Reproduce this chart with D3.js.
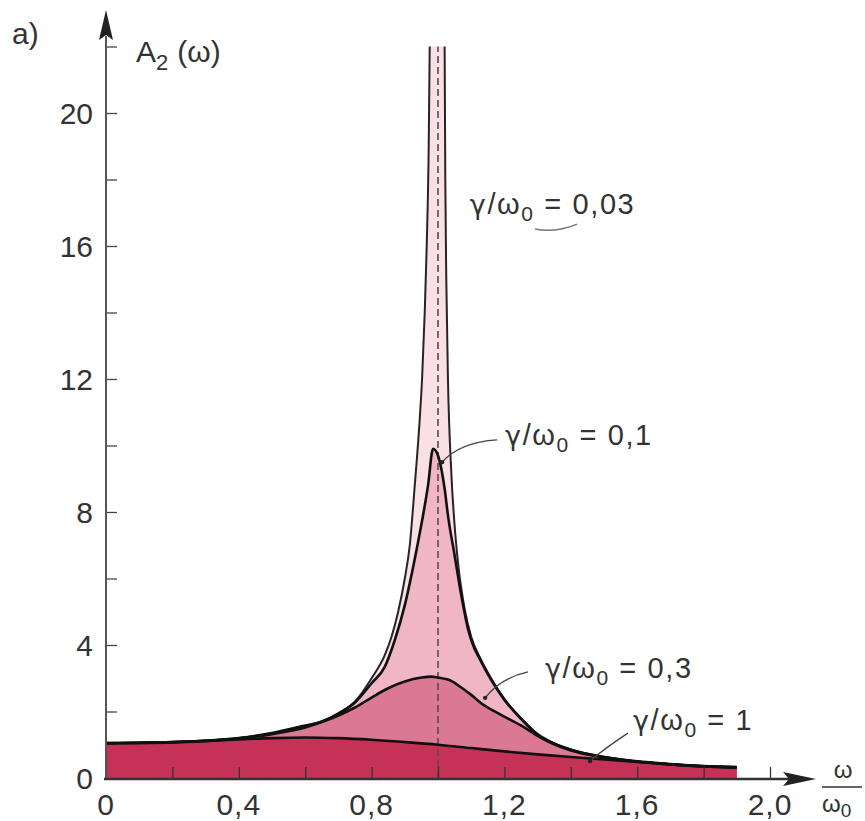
<!DOCTYPE html>
<html lang="de">
<head>
<meta charset="UTF-8">
<title>A2(ω) Resonanzkurven</title>
<script src="https://cdn.jsdelivr.net/npm/d3@7"></script>
<style>
    body { margin: 0; background: #fff; }
    text { font-family: "Liberation Sans", Arial, Helvetica, sans-serif; fill: #333; }
</style>
</head>
<body>
<script>
    // Werte: x = ω/ω0, a = A2(ω)
    var x003 = [0,0.1,0.2,0.3,0.4,0.5,0.58,0.65,0.7,0.75,0.8,0.84,0.86,0.88,0.9,0.915,0.93,0.945,0.952,0.96,0.966,0.972,0.975,
                1.02,1.022,1.025,1.03,1.04,1.05,1.06,1.08,1.1,1.13,1.16,1.2,1.25,1.3,1.35,1.4,1.5,1.6,1.7,1.8,1.9];
    var a003 = [1.05,1.06,1.08,1.12,1.2,1.35,1.53,1.7,1.95,2.3,3.0,3.7,4.25,5.0,6.0,7.0,8.8,10.8,12,14,16,19,22,
                22,18,15,12,9.2,7.6,6.5,5.1,4.25,3.55,3.0,2.38,1.8,1.33,1.05,0.86,0.64,0.5,0.42,0.36,0.33];

    var x01 = [0,0.1,0.2,0.3,0.4,0.5,0.58,0.65,0.7,0.75,0.8,0.84,0.87,0.9,0.92,0.94,0.955,0.97,0.985,1.0,
               1.01,1.02,1.03,1.05,1.07,1.09,1.1,1.13,1.16,1.2,1.25,1.3,1.35,1.4,1.5,1.6,1.7,1.8,1.9];
    var a01 = [1.05,1.06,1.08,1.12,1.2,1.35,1.53,1.7,1.93,2.27,2.85,3.35,4.15,5.2,6.1,7.1,7.9,8.8,9.9,9.7,
               9.3,8.7,7.9,6.7,5.5,4.5,4.15,3.5,2.95,2.35,1.78,1.3,1.03,0.85,0.63,0.5,0.42,0.36,0.33];

    var x03 = [0,0.1,0.2,0.3,0.4,0.5,0.6,0.65,0.7,0.75,0.8,0.85,0.9,0.95,0.98,1.0,1.04,1.07,1.1,1.13,
               1.19,1.25,1.3,1.35,1.4,1.5,1.6,1.7,1.8,1.9];
    var a03 = [1.05,1.06,1.08,1.12,1.19,1.32,1.52,1.68,1.88,2.12,2.42,2.7,2.9,3.02,3.05,3.02,2.92,2.72,2.5,2.25,
               1.9,1.58,1.27,1.01,0.83,0.62,0.49,0.41,0.35,0.32];

    var x1 = [0,0.1,0.2,0.3,0.4,0.5,0.6,0.7,0.8,0.9,1.0,1.1,1.2,1.3,1.4,1.5,1.6,1.7,1.8,1.9];
    var a1 = [1.04,1.05,1.07,1.11,1.16,1.2,1.22,1.2,1.15,1.08,1.0,0.9,0.8,0.71,0.63,0.56,0.48,0.41,0.35,0.31];

    var gammaNames = ["0,03", "0,1", "0,3", "1"];
    var fillColors = ["#f8e0e6", "#f1b6c6", "#db7892", "#c63158"];

    var xTickValues = [0.2,0.4,0.6,0.8,1.0,1.2,1.4,1.6,1.8,2.0];
    var xLabelValues = [0,0.4,0.8,1.2,1.6,2.0];
    var yTickValues = [2,4,6,8,10,12,14,16,18,20,22];
    var yLabelValues = [0,4,8,12,16,20];

    var width = 865, height = 821;
    var svg = d3.select('body').append('svg').attr('width', width).attr('height', height);

    var x = d3.scaleLinear().domain([0, 2]).range([106, 770]);
    var y = d3.scaleLinear().domain([0, 20]).range([778, 113]);

    function toPts(xs, as) { return xs.map(function(v, i){ return [v, as[i]]; }); }
    var series = [toPts(x003, a003), toPts(x01, a01), toPts(x03, a03), toPts(x1, a1)];

    var area = d3.area().curve(d3.curveMonotoneX)
        .x(function(d){ return x(d[0]); })
        .y0(y(0))
        .y1(function(d){ return y(d[1]); });
    var line = d3.line().curve(d3.curveMonotoneX)
        .x(function(d){ return x(d[0]); })
        .y(function(d){ return y(d[1]); });

    // Flaechen, von der hellsten (kleinste Daempfung) bis zur dunkelsten
    svg.selectAll('path.area').data(series).enter().append('path')
        .attr('class', 'area')
        .attr('fill', function(d, i){ return fillColors[i]; })
        .attr('d', area);

    // gestrichelte Linie bei ω = ω0
    svg.append('line')
        .attr('x1', x(1)).attr('x2', x(1))
        .attr('y1', y(0)).attr('y2', y(22))
        .attr('stroke', '#5a4a50').attr('stroke-width', 1.6)
        .attr('stroke-dasharray', '7,4');

    // Kurven; die 0,03-Kurve oben offen
    var s0 = series[0];
    var left0 = s0.filter(function(d){ return d[0] <= 0.975; });
    var right0 = s0.filter(function(d){ return d[0] >= 1.02; });
    var lines = [left0, right0, series[1], series[2], series[3]];
    svg.selectAll('path.curve').data(lines).enter().append('path')
        .attr('class', 'curve')
        .attr('fill', 'none')
        .attr('stroke', function(d, i){ return i < 2 ? '#2a2226' : '#111'; })
        .attr('stroke-width', function(d, i){ return i < 2 ? 2 : 2.6; })
        .attr('d', line);

    // Achsen
    var xAxis = d3.axisBottom(x).tickValues(xTickValues)
        .tickSizeInner(-11).tickSizeOuter(0).tickPadding(0)
        .tickFormat('');
    svg.append('g').attr('transform', 'translate(0,' + y(0) + ')').call(xAxis)
        .call(function(g){ g.select('.domain').remove(); })
        .selectAll('line').attr('stroke', '#333').attr('stroke-width', 1.3);

    var yAxis = d3.axisLeft(y).tickValues(yTickValues)
        .tickSizeInner(-11).tickSizeOuter(0).tickFormat('');
    svg.append('g').attr('transform', 'translate(' + x(0) + ',0)').call(yAxis)
        .call(function(g){ g.select('.domain').remove(); })
        .selectAll('line').attr('stroke', '#444').attr('stroke-width', 1.3);

    svg.selectAll('text.xl').data(xLabelValues).enter().append('text')
        .attr('class', 'xl')
        .attr('x', function(d){ return x(d); })
        .attr('y', y(0) + 37)
        .attr('text-anchor', 'middle')
        .attr('font-size', 30)
        .attr('letter-spacing', 1)
        .text(function(d){ return d === 0 ? '0' : d.toFixed(1).replace('.', ','); });

    svg.selectAll('text.yl').data(yLabelValues).enter().append('text')
        .attr('class', 'yl')
        .attr('x', x(0) - 13)
        .attr('y', function(d){ return y(d) + 11; })
        .attr('text-anchor', 'end')
        .attr('font-size', 30)
        .text(function(d){ return String(d); });

    // Achsenlinien mit Pfeilen
    svg.append('line').attr('x1', x(0)).attr('x2', x(0)).attr('y1', y(0) + 2).attr('y2', 36)
        .attr('stroke', '#555').attr('stroke-width', 2);
    svg.append('path').attr('d', 'M' + x(0) + ',10 L' + (x(0) - 7) + ',40 L' + x(0) + ',35 L' + (x(0) + 7) + ',40 Z')
        .attr('fill', '#222');
    svg.append('line').attr('x1', x(0) - 2).attr('x2', 790).attr('y1', y(0) + 1).attr('y2', y(0) + 1)
        .attr('stroke', '#333').attr('stroke-width', 2.4);
    svg.append('path').attr('d', 'M816,' + (y(0) + 1) + ' L783,' + (y(0) - 6) + ' L789,' + (y(0) + 1) + ' L783,' + (y(0) + 8) + ' Z')
        .attr('fill', '#222');

    // Beschriftungen
    svg.append('text').attr('x', 12).attr('y', 44).attr('font-size', 30).text('a)');
    var yt = svg.append('text').attr('x', 136).attr('y', 62).attr('font-size', 30);
    yt.append('tspan').text('A');
    yt.append('tspan').attr('font-size', 22).attr('dy', 8).text('2');
    yt.append('tspan').attr('dy', -8).attr('dx', 9).text('(ω)');

    svg.append('text').attr('x', 843).attr('y', 778).attr('text-anchor', 'middle').attr('font-size', 24).text('ω');
    svg.append('line').attr('x1', 822).attr('x2', 862).attr('y1', 787).attr('y2', 787)
        .attr('stroke', '#333').attr('stroke-width', 1.5);
    var xt = svg.append('text').attr('x', 822).attr('y', 812).attr('font-size', 24);
    xt.append('tspan').text('ω');
    xt.append('tspan').attr('font-size', 19).attr('dy', 5).text('0');

    // Kurvenbeschriftungen (Ankerpunkte in Datenkoordinaten)
    var labelPos = [[1.096, 16.96], [1.202, 10.02], [1.322, 3.0], [1.587, 1.44]];
    var leaders = [
        [[1.292, 16.51], [1.355, 16.39], [1.419, 16.66]],
        [[1.178, 10.17], [1.066, 10.1], [1.012, 9.5]],
        [[1.271, 3.19], [1.187, 3.0], [1.142, 2.41]],
        [[1.572, 1.35], [1.503, 0.9], [1.458, 0.51]]
    ];

    gammaNames.forEach(function(name, i){
        var t = svg.append('text')
            .attr('x', x(labelPos[i][0])).attr('y', y(labelPos[i][1]))
            .attr('font-size', 29).attr('letter-spacing', 1.6);
        t.append('tspan').attr('font-family', '"DejaVu Sans", sans-serif').attr('font-size', 27).text('γ');
        t.append('tspan').text('/ω');
        t.append('tspan').attr('font-size', 21).attr('dy', 7).text('0');
        t.append('tspan').attr('dy', -7).text(' = ' + name);

        var p = leaders[i];
        svg.append('path')
            .attr('d', 'M' + x(p[0][0]) + ',' + y(p[0][1]) +
                       ' Q' + x(p[1][0]) + ',' + y(p[1][1]) +
                       ' ' + x(p[2][0]) + ',' + y(p[2][1]))
            .attr('fill', 'none')
            .attr('stroke', i === 0 ? '#777' : '#444')
            .attr('stroke-width', 1.4);
        if (i > 0) {
            svg.append('circle').attr('cx', x(p[2][0])).attr('cy', y(p[2][1]))
                .attr('r', 2.2).attr('fill', '#222');
        }
    });
</script>
</body>
</html>
